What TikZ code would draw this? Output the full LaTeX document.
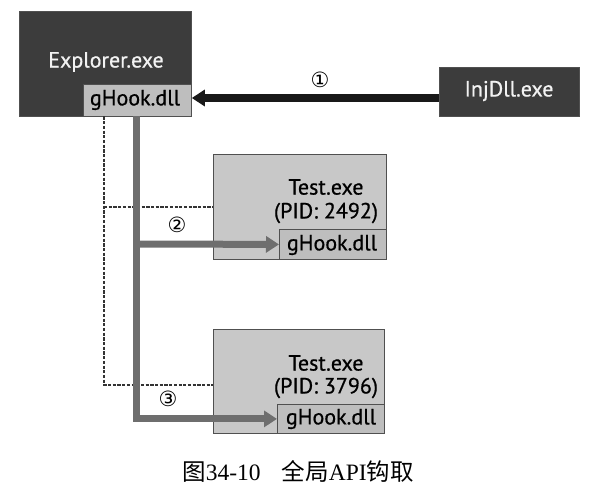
\documentclass[tikz,border=0pt]{standalone}
\usepackage{fontspec}
\setmainfont{PT Sans}
\newfontfamily\lblfont[FakeBold=0.7]{PT Sans}
\newfontfamily\cjk{Noto Sans CJK SC}
\newfontfamily\capserif{Liberation Serif}
\newfontfamily\symf{DejaVu Sans}
\usetikzlibrary{arrows.meta}
\definecolor{darkfill}{HTML}{3C3C3C}
\definecolor{lightfill}{HTML}{C8C8C8}
\definecolor{innerfill}{HTML}{BEBEBE}
\definecolor{edgecol}{HTML}{505050}
\definecolor{grayarr}{HTML}{6E6E6E}
\definecolor{whitetext}{HTML}{F2F2F2}
\tikzset{
  darkbox/.style={draw=edgecol, line width=0.8pt, fill=darkfill, anchor=north west, inner sep=0pt},
  lightbox/.style={draw=edgecol, line width=0.8pt, fill=lightfill, anchor=north west, inner sep=0pt},
  dllbox/.style={draw=edgecol, line width=0.8pt, fill=innerfill, anchor=north west, inner sep=0pt},
  lbl/.style={inner sep=0pt, font=\lblfont\fontsize{22}{25}\selectfont},
  circ/.style={inner sep=0pt, font=\symf\fontsize{21}{23}\selectfont},
  blackarrow/.style={line width=7.5pt, draw=black!90, -{Triangle[length=13pt,width=16pt]}},
  grayarrow/.style={line width=7pt, draw=grayarr, -{Triangle[length=13pt,width=16pt]}},
  dashline/.style={line width=1.8pt, draw=black!80, dash pattern=on 3.2pt off 1.5pt},
}
\begin{document}
\begin{tikzpicture}[x=1pt,y=-1pt]
\useasboundingbox (0,0) rectangle (610,496);
% Explorer
\node[darkbox, minimum width=172pt, minimum height=105pt] (exp) at (19,11) {};
\node[lbl, text=whitetext] (exptxt) at (106,62) {Explorer.exe};
\node[dllbox, minimum width=108pt, minimum height=32pt] (expdll) at (83,84) {};
\node[lbl] (expdlltxt) at (135,100) {gHook.dll};
% InjDll
\node[darkbox, minimum width=140pt, minimum height=49pt] (inj) at (439,67) {};
\node[lbl, text=whitetext] (injtxt) at (509,91) {InjDll.exe};
% Test 1
\node[lightbox, minimum width=173pt, minimum height=105pt] (t1) at (213,154) {};
\node[lbl] (t1a) at (326,187) {Test.exe};
\node[lbl] (t1b) at (326,213) {(PID: 2492)};
\node[dllbox, minimum width=107pt, minimum height=30pt] (t1dll) at (279,229) {};
\node[lbl] (t1dlltxt) at (332,245) {gHook.dll};
% Test 2
\node[lightbox, minimum width=171pt, minimum height=104pt] (t2) at (213,329) {};
\node[lbl] (t2a) at (326,363) {Test.exe};
\node[lbl] (t2b) at (326,388) {(PID: 3796)};
\node[dllbox, minimum width=107pt, minimum height=29pt] (t2dll) at (277,404) {};
\node[lbl] (t2dlltxt) at (331,419) {gHook.dll};
% helper coordinates
\coordinate (dtop) at (104,116.4);
\coordinate (gtop) at (136,116.4);
% dashed lines
\draw[dashline] (dtop) |- (t2.west |- 0,385);
\draw[dashline] (104,207) -- (t1.west |- 0,207);
% gray arrows
\draw[grayarrow] (gtop) |- (t2dll.west);
\draw[grayarrow] (136,244) -- (t1dll.west);
% black arrow
\draw[blackarrow] (inj.west |- 0,98) -- (expdll.east |- 0,98);
% circled numbers
\node[circ] (c1) at (320,80) {①};
\node[circ] (c2) at (177,225) {②};
\node[circ] (c3) at (168,399) {③};
% caption
\node[inner sep=0pt, font=\fontsize{23.5}{26}\selectfont] (cap) at (298,471) {{\cjk 图}{\capserif 34-10}\hspace{0.9em}{\cjk 全局}{\capserif API}{\cjk 钩取}};
\end{tikzpicture}
\end{document}
